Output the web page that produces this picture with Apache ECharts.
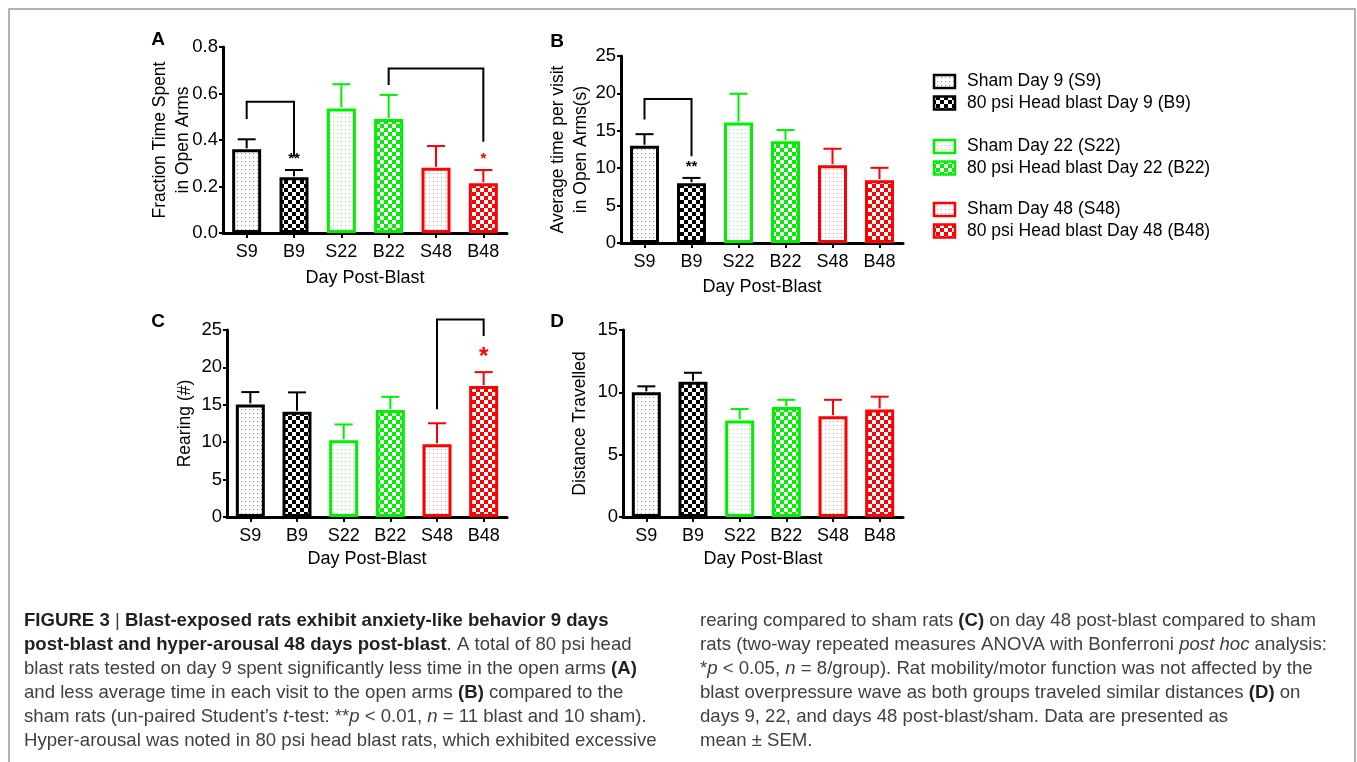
<!DOCTYPE html>
<html>
<head>
<meta charset="utf-8">
<script src="https://cdn.jsdelivr.net/npm/echarts@6/dist/echarts.min.js"></script>
<style>
html,body{margin:0;padding:0;background:#fff;}
#chart{width:1357px;height:762px;}
</style>
</head>
<body>
<div id="chart"></div>
<script>
// ---------- data ----------
const categories = ['S9', 'B9', 'S22', 'B22', 'S48', 'B48'];
const legendLabels = ['Sham Day 9 (S9)', '80 psi Head blast Day 9 (B9)', 'Sham Day 22 (S22)', '80 psi Head blast Day 22 (B22)', 'Sham Day 48 (S48)', '80 psi Head blast Day 48 (B48)'];

const fracMean = [0.360, 0.240, 0.536, 0.490, 0.281, 0.214];
const fracSem  = [0.043, 0.031, 0.104, 0.104, 0.093, 0.057];
const visitMean = [13.0, 8.0, 16.1, 13.6, 10.4, 8.4];
const visitSem  = [1.55, 0.70, 3.85, 1.50, 2.20, 1.65];
const rearMean = [15.05, 14.06, 10.27, 14.30, 9.73, 17.50];
const rearSem  = [1.65, 2.60, 2.10, 1.77, 2.80, 1.87];
const distMean = [10.00, 10.85, 7.75, 8.82, 8.09, 8.63];
const distSem  = [0.48, 0.72, 0.91, 0.58, 1.31, 1.02];

const fracTicks = [0, 0.8, 0.2];
const visitTicks = [0, 25, 5];
const rearTicks = [0, 25, 5];
const distTicks = [0, 15, 5];

// significance brackets: [fromIndex, toIndex, topValue, leftLegEnd, rightLegEnd]
const fracBrackets = [[0, 1, 0.565, 0.49, 0.328], [3, 5, 0.708, 0.637, 0.393]];
const visitBrackets = [[0, 1, 19.24, 16.5, 11.6]];
const rearBrackets = [[4, 5, 26.4, 14.4, 24.2]];
// stars: [index, value, text, kind]
const fracStars = [[1, 0.32, '**', 0], [5, 0.32, '*', 1]];
const visitStars = [[1, 10.2, '**', 0]];
const rearStars = [[5, 21.3, '*', 2]];

const yNames = ['Fraction Time Spent\nin Open Arms', 'Average time per visit\nin Open Arms(s)', 'Rearing (#)', 'Distance Travelled'];
const xName = 'Day Post-Blast';
const panelLetters = ['A', 'B', 'C', 'D'];

const captionLeft = [
  '{b|FIGURE 3} | {b|Blast-exposed rats exhibit anxiety-like behavior 9 days}',
  '{b|post-blast and hyper-arousal 48 days post-blast}. A total of 80 psi head',
  'blast rats tested on day 9 spent significantly less time in the open arms {b|(A)}',
  'and less average time in each visit to the open arms {b|(B)} compared to the',
  'sham rats (un-paired Student\u2019s {i|t}-test: **{i|p} < 0.01, {i|n} = 11 blast and 10 sham).',
  'Hyper-arousal was noted in 80 psi head blast rats, which exhibited excessive'
];
const captionRight = [
  'rearing compared to sham rats {b|(C)} on day 48 post-blast compared to sham',
  'rats (two-way repeated measures ANOVA with Bonferroni {i|post hoc} analysis:',
  '*{i|p} < 0.05, {i|n} = 8/group). Rat mobility/motor function was not affected by the',
  'blast overpressure wave as both groups traveled similar distances {b|(D)} on',
  'days 9, 22, and days 48 post-blast/sham. Data are presented as',
  'mean \u00b1 SEM.'
];

// ---------- styles ----------
const FONT = '"Liberation Sans", Arial, sans-serif';
const barColors = ['#000000', '#000000', '#00ee00', '#00ee00', '#ff0000', '#ff0000'];
const dotColors = ['#8a8a8a', '#8a8a8a', '#88f088', '#88f088', '#ff9090', '#ff9090'];

function dotPattern(color) {
  const c = document.createElement('canvas'); c.width = 4; c.height = 4;
  const ctx = c.getContext('2d');
  ctx.fillStyle = '#ffffff'; ctx.fillRect(0, 0, 4, 4);
  ctx.fillStyle = color; ctx.fillRect(1, 1, 1, 1);
  return c;
}
function checkPattern(color) {
  const c = document.createElement('canvas'); c.width = 8; c.height = 8;
  const ctx = c.getContext('2d');
  ctx.fillStyle = '#ffffff'; ctx.fillRect(0, 0, 8, 8);
  ctx.fillStyle = color; ctx.fillRect(0, 0, 4, 4); ctx.fillRect(4, 4, 4, 4);
  return c;
}
const patterns = categories.map((c, i) => (i % 2 === 0 ? dotPattern(dotColors[i]) : checkPattern(barColors[i])));
const fillOf = i => ({ image: patterns[i], repeat: 'repeat' });

const grids = [
  { left: 223, top: 47, width: 284, height: 186 },
  { left: 621, top: 56, width: 282, height: 187 },
  { left: 227, top: 330, width: 280, height: 187 },
  { left: 623, top: 330, width: 280, height: 187 }
];
const yNameGaps = [28, 28, 30, 31];
const xNameGaps = [36, 35, 33, 33];
const tickSets = [fracTicks, visitTicks, rearTicks, distTicks];
const means = [fracMean, visitMean, rearMean, distMean];
const sems = [fracSem, visitSem, rearSem, distSem];
const bracketSets = [fracBrackets, visitBrackets, rearBrackets, []];
const starSets = [fracStars, visitStars, rearStars, []];

const xAxes = grids.map((g, k) => ({
  type: 'category', gridIndex: k, data: categories,
  name: xName, nameLocation: 'middle', nameGap: xNameGaps[k],
  nameTextStyle: { fontFamily: FONT, fontSize: 18, color: '#000' },
  axisLine: { show: true, lineStyle: { color: '#000', width: 3 } },
  axisTick: { show: true, alignWithLabel: true, length: 5, lineStyle: { color: '#000', width: 2 } },
  axisLabel: { fontFamily: FONT, fontSize: 18, color: '#000', margin: 10 },
  splitLine: { show: false }
}));
const yAxes = grids.map((g, k) => ({
  type: 'value', gridIndex: k,
  min: tickSets[k][0], max: tickSets[k][1], interval: tickSets[k][2],
  name: yNames[k], nameLocation: 'middle', nameGap: yNameGaps[k], nameMoveOverlap: false,
  nameTextStyle: { fontFamily: FONT, fontSize: 17.5, color: '#000', lineHeight: 23 },
  axisLine: { show: true, lineStyle: { color: '#000', width: 3 } },
  axisTick: { show: true, length: 4, lineStyle: { color: '#000', width: 2 } },
  axisLabel: { fontFamily: FONT, fontSize: 18.5, color: '#000', margin: 5,
    formatter: k === 0 ? (v => v.toFixed(1)) : (v => String(v)) },
  splitLine: { show: false }
}));

const series = [];
grids.forEach((g, k) => {
  series.push({
    type: 'bar', xAxisIndex: k, yAxisIndex: k, barWidth: 29, z: 2,
    data: means[k].map((v, i) => ({ value: v, itemStyle: { color: fillOf(i), borderColor: barColors[i], borderWidth: 3 } })),
    emphasis: { disabled: true }, animation: false
  });
  series.push({
    type: 'custom', xAxisIndex: k, yAxisIndex: k, z: 3, animation: false, clip: false,
    data: means[k].map((v, i) => [i, v, sems[k][i]]),
    encode: { x: 0, y: 1 },
    renderItem: function (params, api) {
      const i = api.value(0), m = api.value(1), e = api.value(2);
      const p0 = api.coord([i, m]);
      const p1 = api.coord([i, m + e]);
      const c = barColors[i];
      return { type: 'group', children: [
        { type: 'line', shape: { x1: p0[0], y1: p0[1] - 1, x2: p1[0], y2: p1[1] }, style: { stroke: c, lineWidth: 2 } },
        { type: 'line', shape: { x1: p1[0] - 9, y1: p1[1], x2: p1[0] + 9, y2: p1[1] }, style: { stroke: c, lineWidth: 2 } }
      ] };
    }
  });
  if (bracketSets[k].length) {
    series.push({
      type: 'custom', xAxisIndex: k, yAxisIndex: k, z: 4, animation: false, clip: false,
      data: bracketSets[k],
      encode: { x: 0, y: 2 },
      renderItem: function (params, api) {
        const a = api.value(0), b = api.value(1), top = api.value(2), l = api.value(3), r = api.value(4);
        const pl = api.coord([a, l]), pt1 = api.coord([a, top]), pt2 = api.coord([b, top]), pr = api.coord([b, r]);
        return { type: 'polyline', shape: { points: [pl, pt1, pt2, pr] }, style: { stroke: '#000', lineWidth: 2, fill: null } };
      }
    });
  }
  if (starSets[k].length) {
    series.push({
      type: 'custom', xAxisIndex: k, yAxisIndex: k, z: 4, animation: false, clip: false,
      data: starSets[k].map(s => [s[0], s[1], s[3]]),
      encode: { x: 0, y: 1 },
      renderItem: function (params, api) {
        const s = starSets[k][params.dataIndex];
        const p = api.coord([s[0], s[1]]);
        const kind = s[3];
        const size = kind === 2 ? 24 : 15;
        const col = kind === 0 ? '#000' : '#ff0000';
        return { type: 'text', x: p[0], y: p[1], style: { text: s[2], fill: col, fontFamily: FONT, fontWeight: 'bold', fontSize: size, align: 'center', verticalAlign: 'middle' } };
      }
    });
  }
});

// ---------- graphic: frame, panel letters, legend, caption ----------
const graphic = [];
graphic.push({ type: 'rect', shape: { x: 9, y: 9, width: 1346, height: 800 }, style: { fill: null, stroke: '#9a9a9a', lineWidth: 1.5 }, silent: true, z: 0 });
const letterPos = [[158, 40], [557, 42], [158, 322], [557, 322]];
panelLetters.forEach((t, k) => {
  graphic.push({ type: 'text', x: letterPos[k][0], y: letterPos[k][1], style: { text: t, fontFamily: FONT, fontWeight: 'bold', fontSize: 19, fill: '#000', align: 'center', verticalAlign: 'middle' } });
});
const legendY = [81.5, 103, 146.5, 168, 209.5, 231];
legendLabels.forEach((t, i) => {
  graphic.push({ type: 'rect', shape: { x: 934, y: legendY[i] - 6.5, width: 21, height: 13 }, style: { fill: fillOf(i), stroke: barColors[i], lineWidth: 2.5 } });
  graphic.push({ type: 'text', x: 967, y: legendY[i], style: { text: t, fontFamily: FONT, fontSize: 17.5, fill: '#000', verticalAlign: 'middle' } });
});
const CAP = 18.6;
const capRich = {
  b: { fontFamily: FONT, fontSize: CAP, fontWeight: 'bold', fill: '#231f20' },
  i: { fontFamily: FONT, fontSize: CAP, fontStyle: 'italic', fill: '#404040' }
};
const capY = [621, 645, 669, 693, 717, 741];
captionLeft.forEach((t, j) => {
  graphic.push({ type: 'text', x: 24, y: capY[j], style: { text: t, rich: capRich, fontFamily: FONT, fontSize: CAP, fill: '#404040', verticalAlign: 'middle' } });
});
captionRight.forEach((t, j) => {
  graphic.push({ type: 'text', x: 700, y: capY[j], style: { text: t, rich: capRich, fontFamily: FONT, fontSize: CAP, fill: '#404040', verticalAlign: 'middle' } });
});

const chart = echarts.init(document.getElementById('chart'), null, { renderer: 'canvas' });
chart.setOption({
  backgroundColor: '#ffffff',
  animation: false,
  grid: grids,
  xAxis: xAxes,
  yAxis: yAxes,
  series: series,
  graphic: graphic
});
</script>
</body>
</html>
